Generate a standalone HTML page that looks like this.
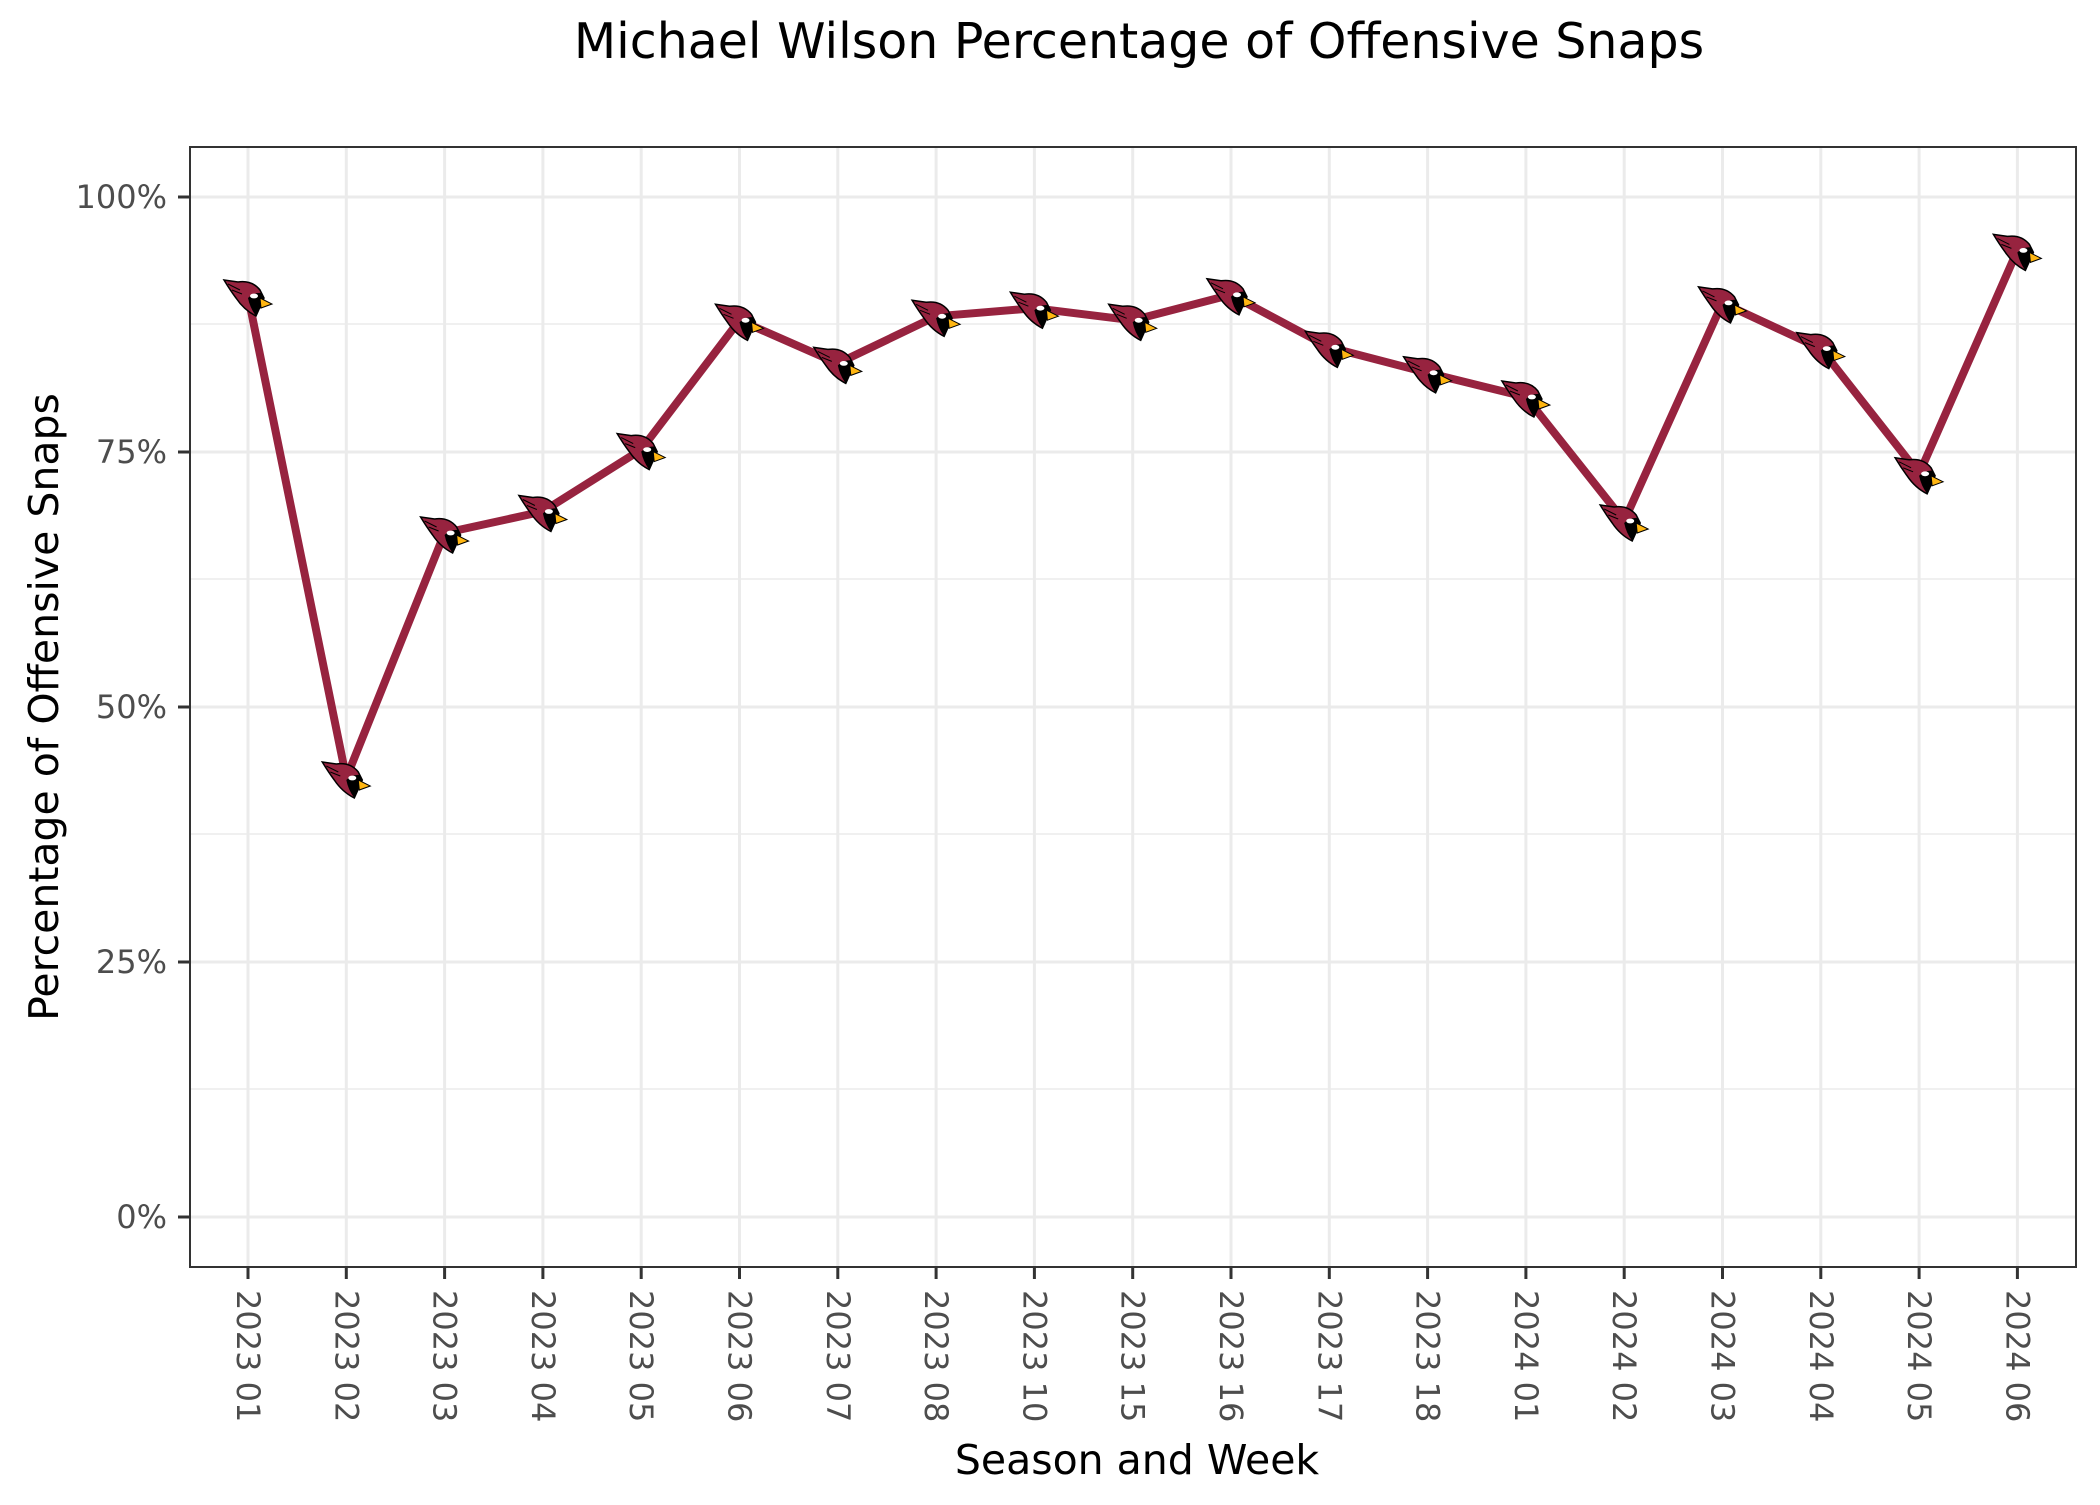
<!DOCTYPE html>
<html><head><meta charset="utf-8"><style>
html,body{margin:0;padding:0;background:#fff;}
text{font-family:"DejaVu Sans","Liberation Sans",sans-serif;}
</style></head><body>
<svg width="2100" height="1500" viewBox="0 0 2100 1500" xmlns="http://www.w3.org/2000/svg">
<defs>
<g id="c">
<path d="M-24,-16 L-10,-14 Q4,-16 12,-6 L16,2 L8,20 Q-4,14 -12,2 Q-18,-6 -24,-16 Z" fill="#97233F" stroke="#000" stroke-width="1.5"/>
<path d="M-20,-12 L-8,-6 M-16,-6 L-6,-2" stroke="#000" stroke-width="1"/>
<path d="M0,2 Q6,-4 14,-3 L16,4 L8,20 Q2,12 0,2 Z" fill="#000"/>
<ellipse cx="6" cy="0" rx="4" ry="2.4" fill="#fff"/>
<path d="M12,2 L24,8 L13,12 Z" fill="#FFB612" stroke="#000" stroke-width="1"/>
</g>
</defs>
<rect width="2100" height="1500" fill="#fff"/>
<text x="1139" y="58" font-size="49" text-anchor="middle" fill="#000">Michael Wilson Percentage of Offensive Snaps</text>
<g stroke="#ebebeb">
<g stroke-width="1.5">
<line x1="190" x2="2076" y1="324" y2="324"/><line x1="190" x2="2076" y1="579" y2="579"/>
<line x1="190" x2="2076" y1="834" y2="834"/><line x1="190" x2="2076" y1="1089" y2="1089"/>
</g>
<g stroke-width="3">
<line x1="190" x2="2076" y1="197" y2="197"/><line x1="190" x2="2076" y1="452" y2="452"/>
<line x1="190" x2="2076" y1="707" y2="707"/><line x1="190" x2="2076" y1="962" y2="962"/>
<line x1="190" x2="2076" y1="1217" y2="1217"/>
</g>
</g>
<g stroke="#ebebeb" stroke-width="3">
<line x1="248" x2="248" y1="147" y2="1267"/><line x1="346.3" x2="346.3" y1="147" y2="1267"/>
<line x1="444.6" x2="444.6" y1="147" y2="1267"/><line x1="542.9" x2="542.9" y1="147" y2="1267"/>
<line x1="641.2" x2="641.2" y1="147" y2="1267"/><line x1="739.5" x2="739.5" y1="147" y2="1267"/>
<line x1="837.8" x2="837.8" y1="147" y2="1267"/><line x1="936.1" x2="936.1" y1="147" y2="1267"/>
<line x1="1034.4" x2="1034.4" y1="147" y2="1267"/><line x1="1132.7" x2="1132.7" y1="147" y2="1267"/>
<line x1="1231" x2="1231" y1="147" y2="1267"/><line x1="1329.3" x2="1329.3" y1="147" y2="1267"/>
<line x1="1427.6" x2="1427.6" y1="147" y2="1267"/><line x1="1525.9" x2="1525.9" y1="147" y2="1267"/>
<line x1="1624.2" x2="1624.2" y1="147" y2="1267"/><line x1="1722.5" x2="1722.5" y1="147" y2="1267"/>
<line x1="1820.8" x2="1820.8" y1="147" y2="1267"/><line x1="1919.1" x2="1919.1" y1="147" y2="1267"/>
<line x1="2017.4" x2="2017.4" y1="147" y2="1267"/>
</g>
<polyline fill="none" stroke="#97233F" stroke-width="8" stroke-linejoin="round" points="248,296 346.3,778 444.6,533 542.9,511.5 641.2,449.6 739.5,320.3 837.8,363.4 936.1,316.3 1034.4,308.2 1132.7,320.3 1231,294.8 1329.3,347.3 1427.6,372.8 1525.9,397 1624.2,521 1722.5,302.9 1820.8,348.6 1919.1,473.8 2017.4,250.4"/>
<g>
<use href="#c" x="248" y="296"/><use href="#c" x="346.3" y="778"/><use href="#c" x="444.6" y="533"/>
<use href="#c" x="542.9" y="511.5"/><use href="#c" x="641.2" y="449.6"/><use href="#c" x="739.5" y="320.3"/>
<use href="#c" x="837.8" y="363.4"/><use href="#c" x="936.1" y="316.3"/><use href="#c" x="1034.4" y="308.2"/>
<use href="#c" x="1132.7" y="320.3"/><use href="#c" x="1231" y="294.8"/><use href="#c" x="1329.3" y="347.3"/>
<use href="#c" x="1427.6" y="372.8"/><use href="#c" x="1525.9" y="397"/><use href="#c" x="1624.2" y="521"/>
<use href="#c" x="1722.5" y="302.9"/><use href="#c" x="1820.8" y="348.6"/><use href="#c" x="1919.1" y="473.8"/>
<use href="#c" x="2017.4" y="250.4"/>
</g>
<rect x="190" y="147" width="1886" height="1120" fill="none" stroke="#333" stroke-width="2"/>
<g stroke="#333" stroke-width="3">
<line x1="178" x2="190" y1="197" y2="197"/><line x1="178" x2="190" y1="452" y2="452"/>
<line x1="178" x2="190" y1="707" y2="707"/><line x1="178" x2="190" y1="962" y2="962"/>
<line x1="178" x2="190" y1="1217" y2="1217"/>
</g>
<g font-size="32" fill="#4d4d4d" text-anchor="end">
<text x="167" y="208">100%</text><text x="167" y="463">75%</text><text x="167" y="718">50%</text>
<text x="167" y="973">25%</text><text x="167" y="1228">0%</text>
</g>
<g stroke="#333" stroke-width="3">
<path d="M248,1267v12M346.3,1267v12M444.6,1267v12M542.9,1267v12M641.2,1267v12M739.5,1267v12M837.8,1267v12M936.1,1267v12M1034.4,1267v12M1132.7,1267v12M1231,1267v12M1329.3,1267v12M1427.6,1267v12M1525.9,1267v12M1624.2,1267v12M1722.5,1267v12M1820.8,1267v12M1919.1,1267v12M2017.4,1267v12"/>
</g>
<g font-size="32" fill="#4d4d4d">
<text transform="translate(237,1290) rotate(90)">2023 01</text>
<text transform="translate(335.3,1290) rotate(90)">2023 02</text>
<text transform="translate(433.6,1290) rotate(90)">2023 03</text>
<text transform="translate(531.9,1290) rotate(90)">2023 04</text>
<text transform="translate(630.2,1290) rotate(90)">2023 05</text>
<text transform="translate(728.5,1290) rotate(90)">2023 06</text>
<text transform="translate(826.8,1290) rotate(90)">2023 07</text>
<text transform="translate(925.1,1290) rotate(90)">2023 08</text>
<text transform="translate(1023.4,1290) rotate(90)">2023 10</text>
<text transform="translate(1121.7,1290) rotate(90)">2023 15</text>
<text transform="translate(1220,1290) rotate(90)">2023 16</text>
<text transform="translate(1318.3,1290) rotate(90)">2023 17</text>
<text transform="translate(1416.6,1290) rotate(90)">2023 18</text>
<text transform="translate(1514.9,1290) rotate(90)">2024 01</text>
<text transform="translate(1613.2,1290) rotate(90)">2024 02</text>
<text transform="translate(1711.5,1290) rotate(90)">2024 03</text>
<text transform="translate(1809.8,1290) rotate(90)">2024 04</text>
<text transform="translate(1908.1,1290) rotate(90)">2024 05</text>
<text transform="translate(2006.4,1290) rotate(90)">2024 06</text>
</g>
<text x="1137" y="1474" font-size="41" text-anchor="middle" fill="#000">Season and Week</text>
<text transform="translate(58,707) rotate(-90)" font-size="41" text-anchor="middle" fill="#000">Percentage of Offensive Snaps</text>
</svg>
</body></html>
